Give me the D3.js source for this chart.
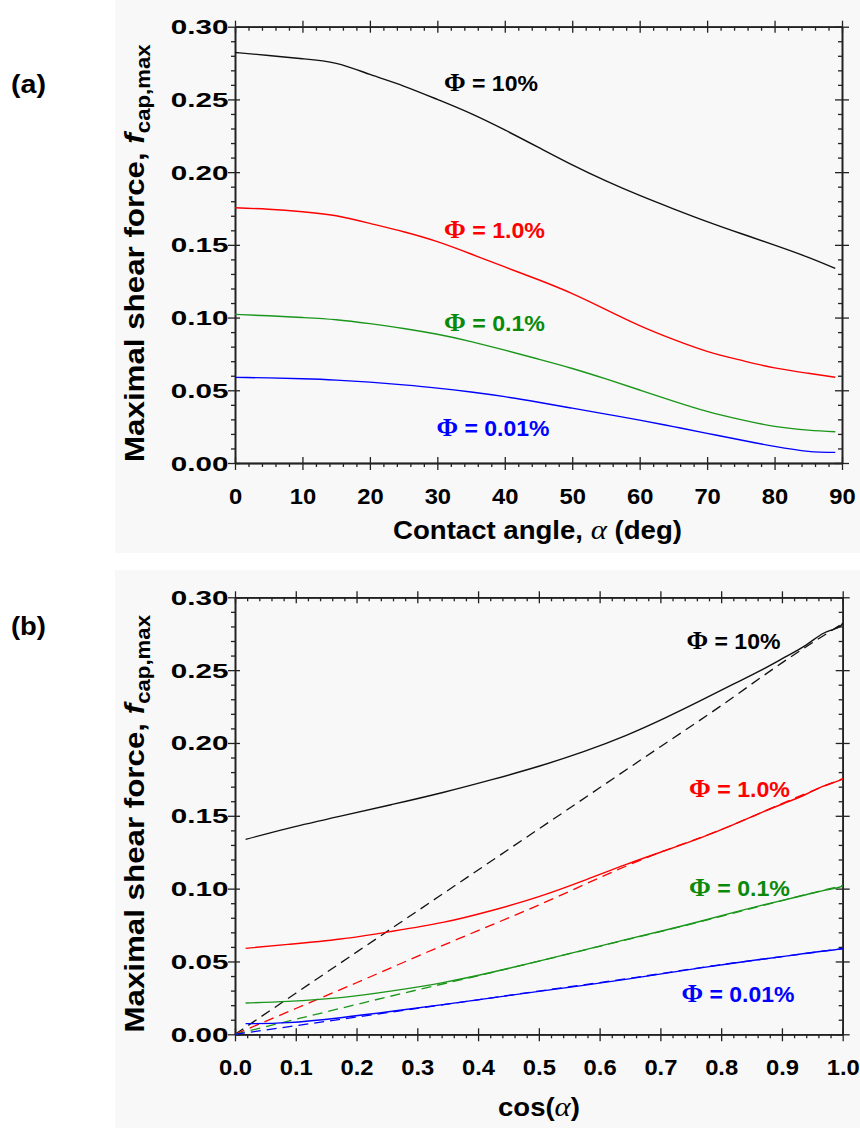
<!DOCTYPE html>
<html>
<head>
<meta charset="utf-8">
<script src="https://cdn.jsdelivr.net/npm/d3@7"></script>
<style>
body { margin: 0; background: #fff; }
svg { display: block; font-family: "Liberation Sans", Arial, sans-serif; font-weight: bold; }
</style>
</head>
<body>
<div id="chart"></div>
<script>
// contact angle (deg) at which the curves were read
var angles = [0, 5, 10, 15, 20, 25, 30, 35, 40, 45, 50, 55, 60, 65, 70, 75, 80, 85, 89];

// maximal shear force for each volume fraction
var phi10   = [0.2823, 0.2802, 0.2780, 0.2748, 0.2672, 0.2592, 0.2500, 0.2402, 0.2290, 0.2170,
               0.2050, 0.1940, 0.1840, 0.1748, 0.1660, 0.1578, 0.1498, 0.1414, 0.1338];
var phi1    = [0.1755, 0.1745, 0.1728, 0.1700, 0.1648, 0.1590, 0.1522, 0.1437, 0.1348, 0.1260,
               0.1165, 0.1055, 0.0945, 0.0850, 0.0768, 0.0707, 0.0654, 0.0617, 0.0590];
var phi01   = [0.1022, 0.1012, 0.1000, 0.0985, 0.0958, 0.0925, 0.0885, 0.0835, 0.0776, 0.0714,
               0.0650, 0.0578, 0.0502, 0.0426, 0.0355, 0.0298, 0.0252, 0.0226, 0.0215];
var phi001  = [0.0589, 0.0585, 0.0579, 0.0570, 0.0556, 0.0537, 0.0515, 0.0488, 0.0456, 0.0418,
               0.0377, 0.0336, 0.0295, 0.0250, 0.0204, 0.0158, 0.0114, 0.0080, 0.0073];

// dashed approximations in panel (b), read against cos(alpha)
var dashCos    = [0, 0.1, 0.2, 0.3, 0.4, 0.5, 0.6, 0.7, 0.8, 0.9, 1.0];
var dashPhi10  = [0, 0.0282, 0.0564, 0.0846, 0.1128, 0.1410, 0.1692, 0.1974, 0.2256, 0.2550, 0.2820];
var dashPhi1   = [0, 0.0177, 0.0354, 0.0535, 0.0712, 0.0888, 0.1075, 0.1250, 0.1405, 0.1584, 0.1755];
var dashPhi01  = [0, 0.0103, 0.0205, 0.0305, 0.0402, 0.0502, 0.0604, 0.0705, 0.0810, 0.0918, 0.1022];
var dashPhi001 = [0, 0.0059, 0.0118, 0.0178, 0.0237, 0.0297, 0.0355, 0.0416, 0.0478, 0.0533, 0.0589];

var seriesNames = ["10%", "1.0%", "0.1%", "0.01%"];
var colours     = ["#111111", "#ff0000", "#1a961a", "#0000ff"];
var textColours = ["#000000", "#ff0000", "#0a8a0a", "#0000ff"];

// tick labels
var angleTicks = [0, 10, 20, 30, 40, 50, 60, 70, 80, 90];
var cosTicks   = [0.0, 0.1, 0.2, 0.3, 0.4, 0.5, 0.6, 0.7, 0.8, 0.9, 1.0];
var forceTicks = [0.00, 0.05, 0.10, 0.15, 0.20, 0.25, 0.30];

var svg = d3.select("#chart").append("svg")
    .attr("width", 860)
    .attr("height", 1128);

// light grey paper behind each panel
svg.append("rect").attr("x", 115).attr("y", 0).attr("width", 745).attr("height", 553).attr("fill", "#f8f8f8");
svg.append("rect").attr("x", 115).attr("y", 570).attr("width", 745).attr("height", 558).attr("fill", "#f8f8f8");

function styleAxis(g) {
    g.selectAll("path, line").attr("stroke", "#222").attr("stroke-width", 1.3);
    g.select(".domain").attr("stroke-width", 1.4);
}

function axisPart(g, axis, tx, ty) {
    var a = g.append("g")
        .attr("transform", "translate(" + tx + "," + ty + ")")
        .call(axis.tickSizeOuter(0));
    styleAxis(a);
    return a;
}

// put a text at (x,y) and stretch it horizontally so it covers `width`
function fitText(t, x, y, width, rot) {
    var w = t.node().getBBox().width;
    var k = width / w;
    t.attr("transform", "translate(" + x + "," + y + ")" + (rot ? " rotate(" + rot + ")" : "") + " scale(" + k + ",1)");
}

function drawPanel(p) {
    var w = p.right - p.left, h = p.bottom - p.top;
    var g = svg.append("g").attr("transform", "translate(" + p.left + "," + p.top + ")");

    var x = d3.scaleLinear().domain(p.xDomain).range([0, w]);
    var y = d3.scaleLinear().domain([0, 0.3]).range([h, 0]);

    var xMinor = x.ticks(p.xMinorCount).filter(function(v) { return p.xTicks.indexOf(+v.toFixed(4)) < 0; });
    var yMinor = y.ticks(30).filter(function(v) { return forceTicks.indexOf(+v.toFixed(4)) < 0; });

    // minor ticks
    axisPart(g, d3.axisLeft(y).tickValues(yMinor).tickSize(4).tickFormat(""), 0, 0);
    axisPart(g, d3.axisRight(y).tickValues(yMinor).tickSize(-4).tickFormat(""), w, 0);
    axisPart(g, d3.axisBottom(x).tickValues(xMinor).tickSize(4).tickFormat(""), 0, h);
    axisPart(g, d3.axisTop(x).tickValues(xMinor).tickSize(-4).tickFormat(""), 0, 0);

    // inner half of the major ticks
    axisPart(g, d3.axisLeft(y).tickValues(forceTicks).tickSize(-5).tickFormat(""), 0, 0);
    axisPart(g, d3.axisRight(y).tickValues(forceTicks).tickSize(-7).tickFormat(""), w, 0);
    axisPart(g, d3.axisBottom(x).tickValues(p.xTicks).tickSize(-6).tickFormat(""), 0, h);
    axisPart(g, d3.axisTop(x).tickValues(p.xTicks).tickSize(-6).tickFormat(""), 0, 0);

    // outer half of the major ticks, with labels
    axisPart(g, d3.axisRight(y).tickValues(forceTicks).tickSize(7).tickFormat(""), w, 0);
    axisPart(g, d3.axisTop(x).tickValues(p.xTicks).tickSize(6).tickFormat(""), 0, 0);

    var yl = axisPart(g, d3.axisLeft(y).tickValues(forceTicks).tickSize(7).tickFormat(d3.format(".2f")), 0, 0);
    yl.selectAll("text")
        .attr("x", null).attr("dy", null)
        .attr("text-anchor", "end")
        .attr("font-family", "'Liberation Sans', Arial, sans-serif")
        .attr("font-weight", "bold")
        .attr("font-size", 19.5)
        .attr("fill", "#000")
        .attr("transform", "translate(-6.5,7) scale(1.52,1)");

    var xl = axisPart(g, d3.axisBottom(x).tickValues(p.xTicks).tickSize(7).tickFormat(p.xFmt), 0, h);
    xl.selectAll("text")
        .attr("y", null).attr("dy", null)
        .attr("text-anchor", "middle")
        .attr("font-family", "'Liberation Sans', Arial, sans-serif")
        .attr("font-weight", "bold")
        .attr("font-size", 22)
        .attr("fill", "#000")
        .attr("transform", "translate(0,41) scale(1.08,1)");

    // curves
    var line = d3.line()
        .x(function(d) { return x(d[0]); })
        .y(function(d) { return y(d[1]); })
        .curve(d3.curveNatural);

    var solid = [phi10, phi1, phi01, phi001];
    var dashed = [dashPhi10, dashPhi1, dashPhi01, dashPhi001];

    if (p.withDashes) {
        dashed.forEach(function(vals, i) {
            g.append("path")
                .datum(dashCos.map(function(c, j) { return [c, vals[j]]; }))
                .attr("d", line)
                .attr("fill", "none")
                .attr("stroke", colours[i])
                .attr("stroke-width", 1.3)
                .attr("stroke-dasharray", "10,6");
        });
    }
    solid.forEach(function(vals, i) {
        g.append("path")
            .datum(angles.map(function(a, j) { return [p.xOf(a), vals[j]]; }))
            .attr("d", line)
            .attr("fill", "none")
            .attr("stroke", colours[i])
            .attr("stroke-width", 1.4);
    });

    // Phi labels
    p.labelPos.forEach(function(lp, i) {
        var t = svg.append("text")
            .attr("fill", textColours[i])
            .attr("font-size", 22.5);
        t.append("tspan")
            .attr("font-family", "'Liberation Serif', 'Times New Roman', serif")
            .attr("font-size", 25.5)
            .text("\u03A6");
        t.append("tspan").text(" = " + seriesNames[i]);
        fitText(t, lp[0], lp[1], lp[2]);
    });

    // y title
    var yt = svg.append("text").attr("font-size", 27.5).attr("text-anchor", "middle");
    yt.append("tspan").text("Maximal shear force, ");
    yt.append("tspan").attr("font-style", "italic").text("f");
    yt.append("tspan").attr("font-size", 19.5).attr("dy", 6).text("cap,max");
    fitText(yt, 143.5, p.top + 226.5, 418, -90);

    // x title
    var xt = svg.append("text").attr("font-size", 25).attr("text-anchor", "middle");
    p.xTitle(xt);
    fitText(xt, p.xTitlePos[0], p.xTitlePos[1], p.xTitlePos[2]);

    // panel letter
    var pl = svg.append("text").attr("font-size", 25).text(p.letter);
    fitText(pl, 11, p.letterY, 35);
}

function alphaSpan(t) {
    t.append("tspan")
        .attr("font-family", "'Liberation Serif', 'Times New Roman', serif")
        .attr("font-style", "italic")
        .attr("font-weight", "normal")
        .attr("font-size", 28)
        .text("\u03B1");
}

drawPanel({
    left: 235, right: 842, top: 26.7, bottom: 463,
    xDomain: [0, 90], xTicks: angleTicks, xMinorCount: 45,
    xFmt: d3.format("d"),
    xOf: function(a) { return a; },
    withDashes: false,
    labelPos: [[444, 90.5, 94], [444, 238, 101], [444, 331, 101], [436.5, 436, 113]],
    xTitle: function(t) {
        t.append("tspan").text("Contact angle, ");
        alphaSpan(t);
        t.append("tspan").text(" (deg)");
    },
    xTitlePos: [537.5, 539, 289],
    letter: "(a)", letterY: 93
});

drawPanel({
    left: 235, right: 842.7, top: 597.3, bottom: 1034.3,
    xDomain: [0, 1], xTicks: cosTicks, xMinorCount: 50,
    xFmt: d3.format(".1f"),
    xOf: function(a) { return Math.cos(a * Math.PI / 180); },
    withDashes: true,
    labelPos: [[686.5, 649, 94], [689, 797, 101], [689, 895.5, 101], [681.5, 1002, 113]],
    xTitle: function(t) {
        t.append("tspan").text("cos(");
        alphaSpan(t);
        t.append("tspan").text(")");
    },
    xTitlePos: [539, 1116, 82],
    letter: "(b)", letterY: 635
});
</script>
</body>
</html>
